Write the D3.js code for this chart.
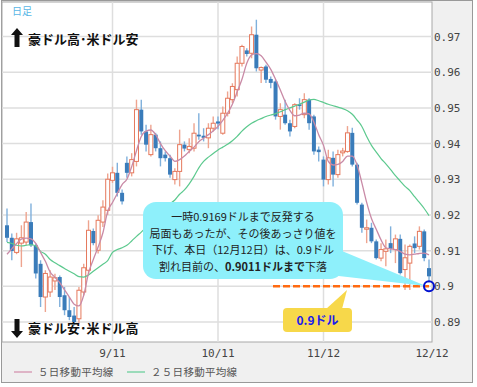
<!DOCTYPE html>
<html>
<head>
<meta charset="utf-8">
<script src="https://cdn.jsdelivr.net/npm/d3@7"></script>
<style>
  body { margin: 0; background: #fff; }
  text { font-family: "Noto Sans CJK JP", "Noto Sans", sans-serif; }
  .mono { font-family: "DejaVu Sans Mono", monospace; font-size: 11px; fill: #444; }
</style>
</head>
<body>
<svg width="477" height="387"></svg>
<script>
// daily candles (AUD/USD)
var open  = [.9171,.9136,.9095,.9121,.9124,.9180,.9115,.9063,.8970,.8984,.9015,.9026,.8975,.8933,.8918,.8909,.8984,.9045,.9155,.9101,.9180,.9213,.9297,.9318,.9262,.9346,.9318,.9350,.9495,.9434,.9369,.9425,.9387,.9369,.9359,.9299,.9322,.9397,.9383,.9387,.9425,.9422,.9416,.9443,.9462,.9429,.9485,.9523,.9551,.9625,.9661,.9653,.9705,.9606,.9616,.9581,.9574,.9476,.9481,.9457,.9448,.9510,.9481,.9523,.9476,.9383,.9355,.9299,.9360,.9313,.9374,.9378,.9430,.9341,.9229,.9160,.9164,.9126,.9079,.9098,.9121,.9103,.9133,.9047,.9065,.9120,.9112,.9154,.9051];
var high  = [.9218,.9148,.9150,.9171,.9208,.9232,.9120,.9073,.9045,.9045,.9035,.9030,.8998,.8970,.8942,.8998,.9063,.9185,.9162,.9199,.9241,.9316,.9335,.9346,.9271,.9364,.9373,.9523,.9523,.9453,.9453,.9430,.9406,.9378,.9369,.9331,.9439,.9406,.9415,.9457,.9485,.9443,.9457,.9476,.9476,.9504,.9546,.9569,.9644,.9677,.9667,.9728,.9747,.9616,.9621,.9588,.9579,.9513,.9523,.9467,.9513,.9527,.9541,.9527,.9481,.9392,.9364,.9383,.9378,.9383,.9388,.9449,.9444,.9346,.9234,.9187,.9178,.9131,.9121,.9131,.9168,.9145,.9145,.9117,.9117,.9140,.9168,.9159,.9075];
var low   = [.9124,.9073,.9090,.9054,.9115,.9110,.9022,.8942,.8928,.8970,.8990,.8942,.8919,.8905,.8890,.8895,.8975,.9035,.9115,.9092,.9166,.9200,.9290,.9252,.9229,.9304,.9308,.9336,.9425,.9378,.9364,.9378,.9336,.9350,.9304,.9285,.9280,.9378,.9373,.9378,.9411,.9406,.9387,.9434,.9440,.9425,.9476,.9513,.9532,.9616,.9644,.9639,.9602,.9570,.9570,.9555,.9467,.9439,.9453,.9420,.9443,.9495,.9471,.9439,.9369,.9350,.9280,.9285,.9280,.9304,.9364,.9374,.9336,.9229,.9150,.9121,.9121,.9075,.9070,.9056,.9093,.9065,.9033,.8990,.8990,.9093,.9103,.9070,.9011];
var close = [.9136,.9099,.9133,.9136,.9180,.9115,.9036,.8970,.9036,.9026,.9024,.8970,.8933,.8914,.8900,.8989,.9052,.9157,.9121,.9185,.9222,.9300,.9318,.9262,.9238,.9318,.9355,.9495,.9434,.9397,.9425,.9387,.9359,.9359,.9313,.9322,.9397,.9386,.9392,.9429,.9420,.9416,.9443,.9457,.9456,.9485,.9527,.9560,.9625,.9672,.9651,.9705,.9611,.9613,.9579,.9570,.9476,.9495,.9457,.9434,.9509,.9505,.9523,.9457,.9378,.9376,.9299,.9360,.9313,.9369,.9379,.9430,.9341,.9234,.9164,.9164,.9126,.9079,.9103,.9105,.9105,.9133,.9037,.9080,.9112,.9107,.9154,.9079,.9028];

// moving averages as drawn
var ma5  = [.9090,.9105,.9120,.9132,.9135,.9133,.9120,.9095,.9070,.9040,.9025,.9010,.8990,.8970,.8950,.8945,.8975,.9037,.9075,.9110,.9150,.9210,.9235,.9260,.9285,.9300,.9335,.9380,.9420,.9435,.9438,.9425,.9400,.9380,.9365,.9350,.9355,.9365,.9378,.9390,.9405,.9415,.9425,.9435,.9448,.9465,.9485,.9510,.9545,.9580,.9625,.9648,.9652,.9646,.9628,.9608,.9580,.9550,.9518,.9493,.9478,.9480,.9485,.9483,.9460,.9425,.9395,.9350,.9340,.9342,.9350,.9365,.9365,.9340,.9290,.9235,.9190,.9160,.9130,.9108,.9105,.9103,.9098,.9090,.9088,.9090,.9092,.9093,.9088];
var ma25 = [.9123,.9120,.9115,.9113,.9115,.9117,.9113,.9098,.9090,.9075,.9066,.9058,.9050,.9042,.9035,.9027,.9026,.9032,.9042,.9052,.9062,.9072,.9095,.9103,.9108,.9115,.9127,.9140,.9152,.9165,.9180,.9195,.9210,.9222,.9232,.9242,.9258,.9270,.9287,.9308,.9332,.9350,.9362,.9372,.9382,.9390,.9398,.9408,.9420,.9435,.9447,.9457,.9464,.9470,.9476,.9480,.9484,.9489,.9495,.9500,.9505,.9510,.9516,.9522,.9524,.9520,.9515,.9510,.9506,.9502,.9498,.9492,.9482,.9466,.9448,.9420,.9395,.9376,.9358,.9343,.9327,.9310,.9295,.9280,.9268,.9251,.9235,.9218,.9198];

var tickIdx = [22, 44, 66, 88];
var tickLabels = ["9/11", "10/11", "11/12", "12/12"];
var yTicks = [0.89, 0.90, 0.91, 0.92, 0.93, 0.94, 0.95, 0.96, 0.97];
var yLabels = ["0.89", "0.9", "0.91", "0.92", "0.93", "0.94", "0.95", "0.96", "0.97"];

var svg = d3.select("svg");
var plot = {left: 2, top: 2, right: 432, bottom: 342};

var x = d3.scaleLinear().domain([0, close.length - 1]).range([7, 429]);
var y = d3.scaleLinear().domain([0.89, 0.97]).range([322, 36.5]);

// backgrounds
svg.append("rect").attr("x", 1.5).attr("y", 0.5).attr("width", 471).attr("height", 382)
  .attr("fill", "#f0f0f0").attr("stroke", "#999");
svg.append("rect").attr("x", plot.left).attr("y", plot.top)
  .attr("width", plot.right - plot.left).attr("height", plot.bottom - plot.top)
  .attr("fill", "#fff").attr("stroke", "#a8a8a8");

svg.append("clipPath").attr("id", "clip").append("rect")
  .attr("x", plot.left).attr("y", plot.top)
  .attr("width", plot.right - plot.left).attr("height", plot.bottom - plot.top);

var g = svg.append("g").attr("clip-path", "url(#clip)");

// grid
g.selectAll(".hgrid").data(yTicks).enter().append("line")
  .attr("x1", plot.left).attr("x2", plot.right)
  .attr("y1", function(d) { return y(d); }).attr("y2", function(d) { return y(d); })
  .attr("stroke", "#dedede").attr("stroke-width", 1.5);
g.selectAll(".vgrid").data(tickIdx.slice(0, 3)).enter().append("line")
  .attr("x1", function(d) { return x(d); }).attr("x2", function(d) { return x(d); })
  .attr("y1", plot.top).attr("y2", plot.bottom)
  .attr("stroke", "#dedede").attr("stroke-width", 1.5);

// candles
var idx = d3.range(close.length);
g.selectAll(".wick").data(idx).enter().append("line")
  .attr("x1", function(i) { return x(i); }).attr("x2", function(i) { return x(i); })
  .attr("y1", function(i) { return y(high[i]); }).attr("y2", function(i) { return y(low[i]); })
  .attr("stroke", function(i) { return close[i] >= open[i] ? "#eea48f" : "#7fb0dc"; })
  .attr("stroke-width", 1.4);
g.selectAll(".body").data(idx).enter().append("rect")
  .attr("x", function(i) { return x(i) - 2; })
  .attr("width", 4)
  .attr("y", function(i) { return y(Math.max(open[i], close[i])); })
  .attr("height", function(i) { return Math.max(1, Math.abs(y(open[i]) - y(close[i]))); })
  .attr("fill", function(i) { return close[i] >= open[i] ? "#fff" : "#3a7cba"; })
  .attr("stroke", function(i) { return close[i] >= open[i] ? "#e5785c" : "none"; })
  .attr("stroke-width", 1);

// moving averages
var line = d3.line().x(function(d, i) { return x(i); }).y(function(d) { return y(d); }).curve(d3.curveMonotoneX);
g.append("path").datum(ma25).attr("d", line).attr("fill", "none").attr("stroke", "#5cc98e").attr("stroke-width", 1.2);
g.append("path").datum(ma5).attr("d", line).attr("fill", "none").attr("stroke", "#c98aa6").attr("stroke-width", 1.3);

// y axis labels on the right
svg.selectAll(".ylab").data(yTicks).enter().append("text")
  .attr("class", "mono")
  .attr("x", 434).attr("y", function(d) { return y(d) + 4; })
  .text(function(d, i) { return yLabels[i]; });

// x axis labels
svg.selectAll(".xlab").data(tickIdx).enter().append("text")
  .attr("class", "mono")
  .attr("text-anchor", "middle")
  .attr("x", function(d, i) { return i == 3 ? plot.right : x(d); }).attr("y", 357)
  .text(function(d, i) { return tickLabels[i]; });

// legend
svg.append("line").attr("x1", 14).attr("x2", 32).attr("y1", 372).attr("y2", 372).attr("stroke", "#d9a0b8").attr("stroke-width", 1.5);
svg.append("text").attr("x", 38).attr("y", 376).attr("font-size", 10.5).attr("fill", "#555")
  .attr("letter-spacing", 0.3).text("５日移動平均線");
svg.append("line").attr("x1", 127).attr("x2", 145).attr("y1", 372).attr("y2", 372).attr("stroke", "#7fd4a8").attr("stroke-width", 1.5);
svg.append("text").attr("x", 151).attr("y", 376).attr("font-size", 10.5).attr("fill", "#555")
  .attr("letter-spacing", 0.3).text("２５日移動平均線");

// labels in the plot
svg.append("text").attr("x", 12).attr("y", 15).attr("font-size", 10).attr("fill", "#5ab6e6").text("日足");

function arrow(cx, cy, up) {
  var s = up ? -1 : 1;
  var p = d3.path();
  p.moveTo(cx, cy + s * 10);
  p.lineTo(cx + 6, cy + s * 3);
  p.lineTo(cx + 2.5, cy + s * 3);
  p.lineTo(cx + 2.5, cy - s * 9);
  p.lineTo(cx - 2.5, cy - s * 9);
  p.lineTo(cx - 2.5, cy + s * 3);
  p.lineTo(cx - 6, cy + s * 3);
  p.closePath();
  svg.append("path").attr("d", p.toString()).attr("fill", "#111");
}
arrow(17, 38, true);
svg.append("text").attr("x", 28).attr("y", 44).attr("font-size", 13).attr("font-weight", "bold").attr("fill", "#111")
  .text("豪ドル高･米ドル安");
arrow(17, 328, false);
svg.append("text").attr("x", 28).attr("y", 333).attr("font-size", 13).attr("font-weight", "bold").attr("fill", "#111")
  .text("豪ドル安･米ドル高");

// 0.9 line and marker
svg.append("line").attr("x1", 273).attr("x2", x(88)).attr("y1", y(0.9)).attr("y2", y(0.9))
  .attr("stroke", "#ff6a10").attr("stroke-width", 2.5).attr("stroke-dasharray", "7,3");

// callout bubble
svg.append("path").attr("d", "M330,246 L426,286 L330,275 Z").attr("fill", "#8ef0fb");
svg.append("rect").attr("x", 143).attr("y", 202).attr("width", 200).attr("height", 77).attr("rx", 13)
  .attr("fill", "#8ef0fb");
var lines = ["一時0.9169ドルまで反発する", "局面もあったが、その後あっさり値を", "下げ、本日（12月12日）は、0.9ドル"];
svg.selectAll(".cl").data(lines).enter().append("text")
  .attr("x", 243).attr("y", function(d, i) { return 221 + i * 16.5; })
  .attr("text-anchor", "middle").attr("font-size", 11).attr("fill", "#222")
  .text(function(d) { return d; });
var last = svg.append("text").attr("x", 243).attr("y", 270.5).attr("text-anchor", "middle")
  .attr("font-size", 11).attr("fill", "#222");
last.append("tspan").text("割れ目前の、");
last.append("tspan").attr("font-weight", "bold").text("0.9011ドルまで");
last.append("tspan").text("下落");

svg.append("circle").attr("cx", x(88)).attr("cy", y(0.9)).attr("r", 5)
  .attr("fill", "none").attr("stroke", "#0010d0").attr("stroke-width", 2);

// yellow label
svg.append("path").attr("d", "M326,309 L347,290 L342,309 Z").attr("fill", "#f7d84a");
svg.append("rect").attr("x", 283).attr("y", 308).attr("width", 69).attr("height", 24).attr("rx", 4)
  .attr("fill", "#f7d84a");
svg.append("text").attr("x", 317.5).attr("y", 324.5).attr("text-anchor", "middle")
  .attr("font-size", 12).attr("font-weight", "bold").attr("fill", "#1a1aee").text("0.9ドル");
</script>
</body>
</html>
